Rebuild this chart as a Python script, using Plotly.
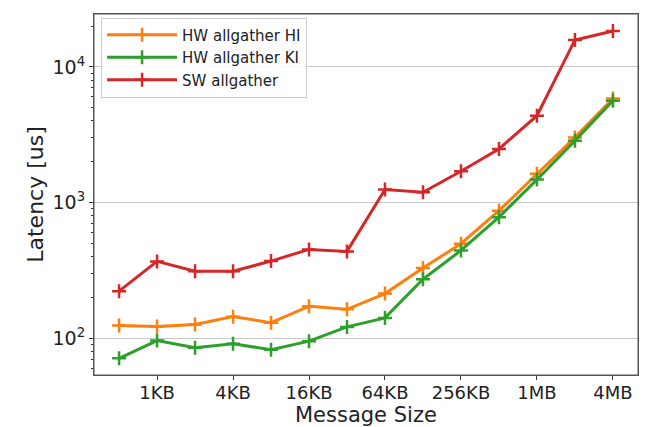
import plotly.graph_objects as go
import math

sizes_bytes = [512, 1024, 2048, 4096, 8192, 16384, 32768, 65536, 131072,
               262144, 524288, 1048576, 2097152, 4194304]
hw_hi = [124, 122, 126, 144, 130, 172, 163, 213, 329, 497, 870, 1626, 3020, 5850]
hw_ki = [71, 96, 85, 91, 82, 95, 121, 141, 272, 443, 780, 1476, 2857, 5627]
sw = [222, 368, 311, 311, 370, 451, 436, 1247, 1191, 1698, 2483, 4365, 15800, 18400]

xtick_vals = [1024, 4096, 16384, 65536, 262144, 1048576, 4194304]
xtick_text = ["1KB", "4KB", "16KB", "64KB", "256KB", "1MB", "4MB"]
ytick_vals = [100, 1000, 10000]
ytick_text = ["10<sup>2</sup>", "10<sup>3</sup>", "10<sup>4</sup>"]
yminor_vals = [60, 70, 80, 90, 200, 300, 400, 500, 600, 700, 800, 900,
               2000, 3000, 4000, 5000, 6000, 7000, 8000, 9000, 20000]

series = [
    ("HW allgather HI", hw_hi, "#ff7f0e"),
    ("HW allgather KI", hw_ki, "#2ca02c"),
    ("SW allgather", sw, "#d62728"),
]

fig = go.Figure()
for name, vals, col in series:
    fig.add_trace(go.Scatter(
        x=sizes_bytes, y=vals, name=name, mode="lines+markers",
        line=dict(color=col, width=3),
        marker=dict(symbol="cross-thin", size=10, color=col,
                    line=dict(color=col, width=2.5)),
    ))

l2 = math.log10(2)
fig.update_layout(
    width=653, height=427,
    margin=dict(l=94, r=15, t=14, b=52),
    paper_bgcolor="white", plot_bgcolor="white",
    font=dict(family="DejaVu Sans", color="#222"),
    showlegend=True,
    legend=dict(x=0.013, y=0.99, xanchor="left", yanchor="top",
                bgcolor="rgba(255,255,255,0.85)", bordercolor="#cccccc",
                borderwidth=1, font=dict(size=15), tracegroupgap=0,
                itemwidth=70),
    xaxis=dict(type="log",
               range=[math.log10(512) - 0.66 * l2, math.log10(4194304) + 0.66 * l2],
               tickvals=xtick_vals, ticktext=xtick_text,
               tickfont=dict(size=18), showgrid=False,
               ticks="outside", ticklen=4, tickcolor="#333",
               ticklabelstandoff=-3,
               showline=True, linecolor="#555", linewidth=1, mirror=True,
               zeroline=False, automargin=False),
    yaxis=dict(type="log", range=[1.728, 4.39],
               tickvals=ytick_vals, ticktext=ytick_text,
               tickfont=dict(size=19), showgrid=True, gridcolor="#c8c8c8",
               gridwidth=1,
               ticks="outside", ticklen=4, tickcolor="#333",
               minor=dict(tickvals=yminor_vals, ticks="outside", ticklen=2.5,
                          tickcolor="#333", showgrid=False),
               showline=True, linecolor="#555", linewidth=1, mirror=True,
               zeroline=False, automargin=False),
    shapes=[dict(type="rect", xref="paper", yref="paper", x0=0, y0=0, x1=1, y1=1,
                 line=dict(color="#555", width=1), fillcolor="rgba(0,0,0,0)",
                 layer="above")],
    annotations=[
        dict(text="Message Size", xref="paper", yref="paper", x=0.5, y=-0.111,
             xanchor="center", yanchor="middle", showarrow=False,
             font=dict(size=21, color="#222")),
        dict(text="Latency [us]", xref="paper", yref="paper", x=-0.108, y=0.5,
             xanchor="center", yanchor="middle", showarrow=False, textangle=-90,
             font=dict(size=22, color="#222")),
    ],
)

fig.write_html("out.html", config={"displayModeBar": False},
               post_script="document.body.style.margin='0';document.body.style.padding='0';")
